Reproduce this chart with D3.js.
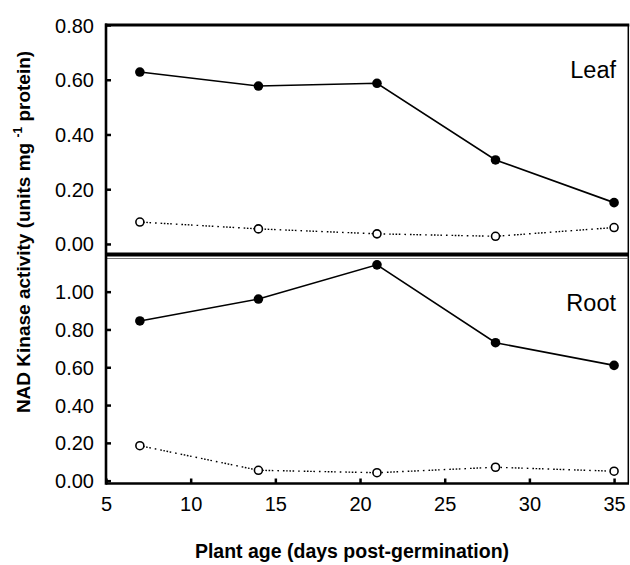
<!DOCTYPE html>
<html>
<head>
<meta charset="utf-8">
<script src="https://cdn.jsdelivr.net/npm/d3@7"></script>
<style>
  body { margin: 0; background: #fff; }
  text { font-family: Arial, "Liberation Sans", sans-serif; fill: #000; }
</style>
</head>
<body>
<div id="svg-container"></div>
<script>
/** Chart data */
const days = [7, 14, 21, 28, 35];
const leafFilled = [0.628, 0.577, 0.587, 0.307, 0.151];
const leafOpen = [0.080, 0.055, 0.037, 0.028, 0.060];
const rootFilled = [0.845, 0.961, 1.142, 0.730, 0.610];
const rootOpen = [0.185, 0.055, 0.042, 0.071, 0.050];
const xTicks = [5, 10, 15, 20, 25, 30, 35];
const leafTicks = [0, 0.2, 0.4, 0.6, 0.8];
const rootTicks = [0, 0.2, 0.4, 0.6, 0.8, 1.0];

const w = 630, h = 565;
const left = 106, right = 628.3;

const svg = d3.select("#svg-container")
  .append("svg")
  .attr("width", w)
  .attr("height", h);

const xScale = d3.scaleLinear().domain([5, 35.84]).range([left, right]);

const panels = [
  { name: "Leaf", filled: leafFilled, open: leafOpen, ticks: leafTicks,
    domain: [-0.04, 0.80], range: [254.9, 25], labelY: 78 },
  { name: "Root", filled: rootFilled, open: rootOpen, ticks: rootTicks,
    domain: [-0.015, 1.194], range: [483.5, 255], labelY: 311 }
];

panels.forEach(function(p) {
  const yScale = d3.scaleLinear().domain(p.domain).range(p.range);
  const g = svg.append("g");

  // y axis, ticks pointing inward
  const yAxis = d3.axisLeft(yScale)
    .tickValues(p.ticks)
    .tickFormat(d3.format(".2f"))
    .tickSizeInner(-5)
    .tickSizeOuter(0)
    .tickPadding(12);
  const ya = g.append("g")
    .attr("transform", "translate(" + left + ",0)")
    .call(yAxis);
  ya.select(".domain").remove();
  ya.selectAll(".tick line").attr("stroke", "#000").attr("stroke-width", 2.5);
  ya.selectAll(".tick text")
    .style("font-size", "20px")
    .attr("dy", "0.35em");

  const line = d3.line()
    .x((d, i) => xScale(days[i]))
    .y((d) => yScale(d));

  // open series (dotted)
  g.append("path")
    .datum(p.open)
    .attr("d", line)
    .attr("fill", "none")
    .attr("stroke", "#000")
    .attr("stroke-width", 1.4)
    .attr("stroke-dasharray", "1.6,1.6,1.6,1.6,1.6,1.6,1.6,4,1.6,4");

  // filled series (solid)
  g.append("path")
    .datum(p.filled)
    .attr("d", line)
    .attr("fill", "none")
    .attr("stroke", "#000")
    .attr("stroke-width", 1.6);

  g.selectAll("circle.open")
    .data(p.open)
    .enter()
    .append("circle")
    .attr("class", "open")
    .attr("cx", (d, i) => xScale(days[i]))
    .attr("cy", (d) => yScale(d))
    .attr("r", 4)
    .attr("fill", "#fff")
    .attr("stroke", "#000")
    .attr("stroke-width", 1.6);

  g.selectAll("circle.filled")
    .data(p.filled)
    .enter()
    .append("circle")
    .attr("class", "filled")
    .attr("cx", (d, i) => xScale(days[i]))
    .attr("cy", (d) => yScale(d))
    .attr("r", 4.8)
    .attr("fill", "#000");

  // panel label
  g.append("text")
    .attr("x", 616)
    .attr("y", p.labelY)
    .style("text-anchor", "end")
    .style("font-size", "23.5px")
    .text(p.name);
});

/** Frame */
// top border
svg.append("line")
  .attr("x1", left - 1).attr("x2", right + 1)
  .attr("y1", 25).attr("y2", 25)
  .attr("stroke", "#000").attr("stroke-width", 2.8);
// right border
svg.append("line")
  .attr("x1", right).attr("x2", right)
  .attr("y1", 25).attr("y2", 483.5)
  .attr("stroke", "#000").attr("stroke-width", 1.5);
// panel separator
svg.append("line")
  .attr("x1", left).attr("x2", right)
  .attr("y1", 254.5).attr("y2", 254.5)
  .attr("stroke", "#000").attr("stroke-width", 4);
svg.append("line")
  .attr("x1", left).attr("x2", right)
  .attr("y1", 258.5).attr("y2", 258.5)
  .attr("stroke", "#555").attr("stroke-width", 0.8);
// left axis line
svg.append("line")
  .attr("x1", left).attr("x2", left)
  .attr("y1", 23.6).attr("y2", 484.8)
  .attr("stroke", "#000").attr("stroke-width", 2.6);

/** x axis, ticks pointing inward */
const xAxis = d3.axisBottom(xScale)
  .tickValues(xTicks)
  .tickFormat(d3.format("d"))
  .tickSizeInner(-5)
  .tickSizeOuter(0)
  .tickPadding(13);
const xa = svg.append("g")
  .attr("transform", "translate(0,483.5)")
  .call(xAxis);
xa.select(".domain").remove();
xa.selectAll(".tick line").attr("stroke", "#000").attr("stroke-width", 2.5);
xa.selectAll(".tick text").style("font-size", "20px");
svg.append("line")
  .attr("x1", left).attr("x2", right + 0.7)
  .attr("y1", 483.5).attr("y2", 483.5)
  .attr("stroke", "#000").attr("stroke-width", 2.6);

/** Axis titles */
svg.append("text")
  .attr("x", 352)
  .attr("y", 558)
  .style("text-anchor", "middle")
  .style("font-size", "19.5px")
  .style("font-weight", "bold")
  .text("Plant age (days post-germination)");

const yTitle = svg.append("text")
  .attr("transform", "translate(30,232) rotate(-90)")
  .style("text-anchor", "middle")
  .style("font-size", "19px")
  .style("font-weight", "bold");
yTitle.append("tspan").text("NAD Kinase activity (units mg ");
yTitle.append("tspan").attr("dy", -8).style("font-size", "12px").text("-1");
yTitle.append("tspan").attr("dy", 8).text(" protein)");
</script>
</body>
</html>
